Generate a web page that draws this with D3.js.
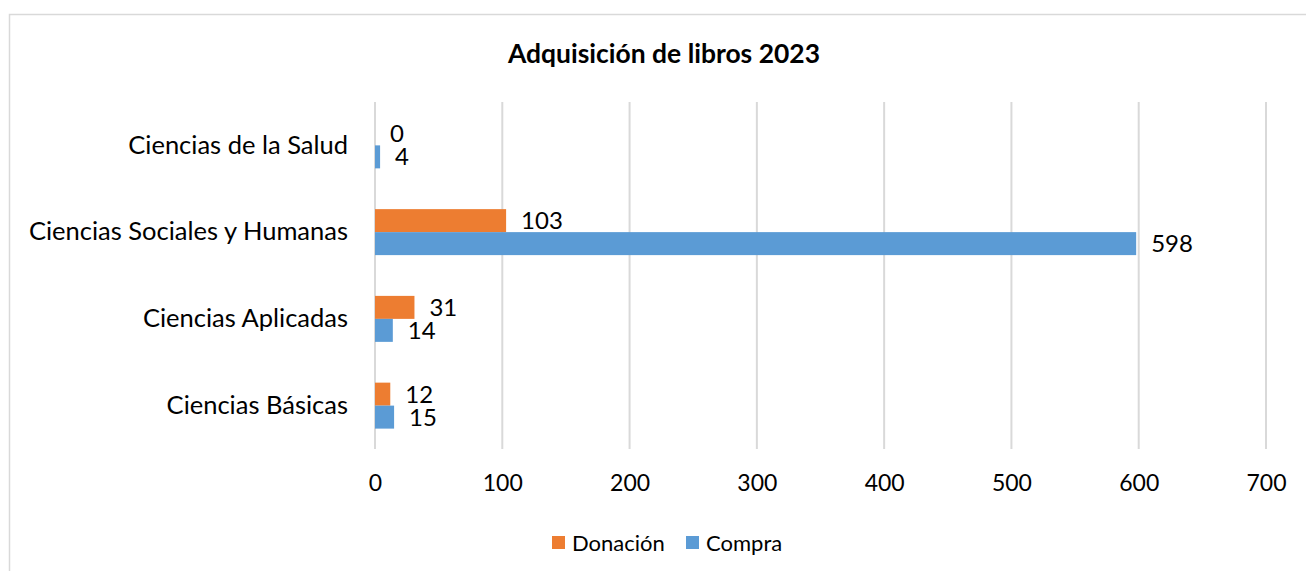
<!DOCTYPE html>
<html>
<head>
<meta charset="utf-8">
<script src="https://cdn.jsdelivr.net/npm/d3@7"></script>
<style>
  body { margin: 0; background: #fff; }
  svg { display: block; font-family: Lato, "Open Sans", sans-serif; }
</style>
</head>
<body>
<svg id="chart" width="1306" height="571"></svg>
<script>
const categories = [
  'Ciencias de la Salud',
  'Ciencias Sociales y Humanas',
  'Ciencias Aplicadas',
  'Ciencias Básicas'
]
const seriesNames = ['Donación', 'Compra']
const donacion = [0, 103, 31, 12]
const compra = [4, 598, 14, 15]
const xTicks = [0, 100, 200, 300, 400, 500, 600, 700]
const colors = ['#ED7D31', '#5B9BD5']

const svg = d3.select('#chart');

// chart border
svg.append('rect')
  .attr('x', 9.5).attr('y', 14.5)
  .attr('width', 1310).attr('height', 600)
  .attr('fill', 'none')
  .attr('stroke', '#d9d9d9')
  .attr('stroke-width', 1.5);

svg.append('text')
  .attr('x', 664).attr('y', 63)
  .attr('text-anchor', 'middle')
  .attr('font-size', 27)
  .attr('font-weight', 'bold')
  .attr('textLength', 312)
  .attr('lengthAdjust', 'spacingAndGlyphs')
  .text('Adquisición de libros 2023');

const x = d3.scaleLinear().domain([0, 700]).range([375, 1266]);
const y = d3.scaleBand().domain(categories).range([102, 449]).paddingInner(0.47).paddingOuter(0.235);
const ySub = d3.scaleBand().domain(seriesNames).range([0, y.bandwidth()]);

// gridlines
svg.append('g')
  .selectAll('line')
  .data(xTicks)
  .join('line')
  .attr('x1', d => x(d)).attr('x2', d => x(d))
  .attr('y1', 102).attr('y2', 449)
  .attr('stroke', '#d9d9d9')
  .attr('stroke-width', 2);

// x axis labels
const xAxis = svg.append('g')
  .attr('transform', 'translate(0,475)')
  .call(d3.axisBottom(x).tickValues(xTicks).tickSize(0).tickPadding(0));
xAxis.select('.domain').remove();
xAxis.selectAll('text')
  .attr('font-size', 23)
  .attr('font-family', 'Lato, sans-serif')
  .attr('fill', '#000')
  .attr('dy', '0.71em');

// y axis labels
const yAxis = svg.append('g')
  .attr('transform', 'translate(348,0)')
  .call(d3.axisLeft(y).tickSize(0).tickPadding(0));
yAxis.select('.domain').remove();
yAxis.selectAll('text')
  .attr('font-size', 25.5)
  .attr('font-family', 'Lato, sans-serif')
  .attr('fill', '#000');

const rows = categories.map((c, i) => ({ cat: c, values: [donacion[i], compra[i]] }));

const groups = svg.append('g')
  .selectAll('g')
  .data(rows)
  .join('g')
  .attr('transform', d => `translate(0,${y(d.cat)})`);

groups.selectAll('rect')
  .data(d => d.values.map((v, j) => ({ name: seriesNames[j], v, j })))
  .join('rect')
  .attr('x', x(0))
  .attr('y', d => ySub(d.name))
  .attr('width', d => x(d.v) - x(0))
  .attr('height', ySub.bandwidth())
  .attr('fill', d => colors[d.j]);

groups.selectAll('text')
  .data(d => d.values.map((v, j) => ({ name: seriesNames[j], v, j })))
  .join('text')
  .attr('x', d => x(d.v) + 15)
  .attr('y', d => ySub(d.name) + ySub.bandwidth() / 2)
  .attr('dy', '0.35em')
  .attr('font-size', 24)
  .text(d => d.v);

// legend
const legend = svg.append('g').attr('transform', 'translate(552,543)');
const legendX = [0, 134];
seriesNames.forEach((s, i) => {
  legend.append('rect')
    .attr('x', legendX[i]).attr('y', -7)
    .attr('width', 13).attr('height', 13)
    .attr('fill', colors[i]);
  legend.append('text')
    .attr('x', legendX[i] + 20).attr('y', 0)
    .attr('dy', '0.35em')
    .attr('font-size', 22)
    .text(s);
});
</script>
</body>
</html>
